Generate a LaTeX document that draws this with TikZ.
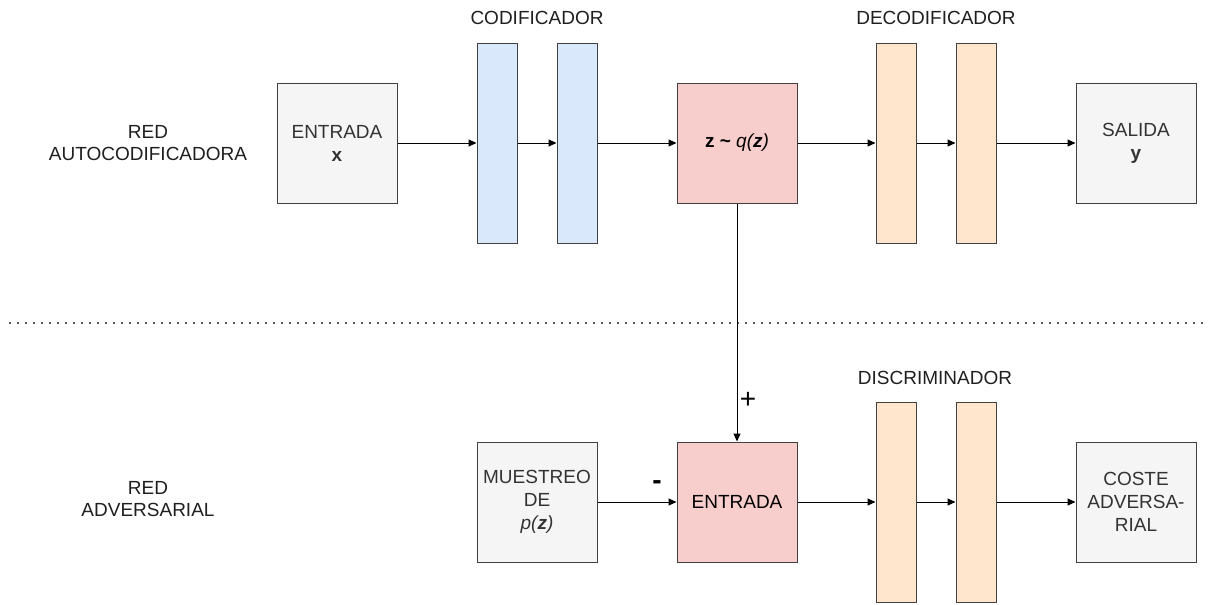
\documentclass[tikz,border=0pt]{standalone}
\usepackage{fontspec}
\setmainfont{Liberation Sans}
\usetikzlibrary{arrows.meta}

\definecolor{grisfondo}{HTML}{F5F5F5}
\definecolor{azul}{HTML}{DAE8FC}
\definecolor{rosa}{HTML}{F8CECC}
\definecolor{naranja}{HTML}{FFE6CC}

\tikzset{
	caja/.style={draw=black!75, fill=grisfondo, line width=1pt, minimum width=120pt, minimum height=120pt, inner sep=0pt, align=center, text=black!80, font=\fontsize{19}{23}\selectfont},
	capa/.style={draw=black!75, line width=1pt, minimum width=40pt, minimum height=200pt, inner sep=0pt},
	rotulo/.style={align=center, text=black!88, font=\fontsize{19}{22}\selectfont},
	signo/.style={text=black, font=\fontsize{28}{28}\selectfont},
	flecha/.style={-{Triangle[length=8pt,width=7pt]}, line width=1pt},
}

\begin{document}
\begin{tikzpicture}[x=1pt, y=-1pt]
			%%%%% START %%%%%
			\useasboundingbox (0,0) rectangle (1213,605);
			
			% red autocodificadora
			\node[rotulo] (redA) at (148,143) {RED\\AUTOCODIFICADORA};
			\node[caja] (entrada) at (337,143) {ENTRADA\\\textbf{x}};
			\node[capa, fill=azul] (cod1) at (497,143) {};
			\node[capa, fill=azul] (cod2) at (577,143) {};
			\node[caja, fill=rosa, text=black] (latente) at (737,143) {\textbf{z \textasciitilde} \textit{q(\textbf{z})}};
			\node[capa, fill=naranja] (dec1) at (896,143) {};
			\node[capa, fill=naranja] (dec2) at (976,143) {};
			\node[caja] (salida) at (1136,143) {SALIDA\\\textbf{y}};
			
			\node[rotulo] (codif) at (537,18) {CODIFICADOR};
			\node[rotulo] (decodif) at (936,18) {DECODIFICADOR};
			
			\draw[flecha] (entrada) -- (cod1);
			\draw[flecha] (cod1) -- (cod2);
			\draw[flecha] (cod2) -- (latente);
			\draw[flecha] (latente) -- (dec1);
			\draw[flecha] (dec1) -- (dec2);
			\draw[flecha] (dec2) -- (salida);
			
			% separador
			\coordinate (sepIzq) at (9,323);
			\coordinate (sepDer) at (1208,323);
			\draw[black!65, line width=2pt, dash pattern=on 2pt off 6pt] (sepIzq) -- (sepDer);
			
			% red adversarial
			\node[rotulo] (redB) at (148,499) {RED\\ADVERSARIAL};
			\node[caja] (muestreo) at (537,502) {MUESTREO\\DE\\\textit{p(\textbf{z})}};
			\node[caja, fill=rosa, text=black] (entradaD) at (737,502) {ENTRADA};
			\node[capa, fill=naranja] (dis1) at (896,502) {};
			\node[capa, fill=naranja] (dis2) at (976,502) {};
			\node[caja] (coste) at (1136,502) {COSTE\\ADVERSA-\\RIAL};
			
			\node[rotulo] (discrim) at (935,378) {DISCRIMINADOR};
			
			\draw[flecha] (latente) -- (entradaD);
			\draw[flecha] (muestreo) -- (entradaD);
			\draw[flecha] (entradaD) -- (dis1);
			\draw[flecha] (dis1) -- (dis2);
			\draw[flecha] (dis2) -- (coste);
			
			\node[signo] (mas) at (748,400) {+};
			\node[signo] (menos) at (657,485) {\textbf{-}};
			%%%%% END %%%%%
\end{tikzpicture}
\end{document}
